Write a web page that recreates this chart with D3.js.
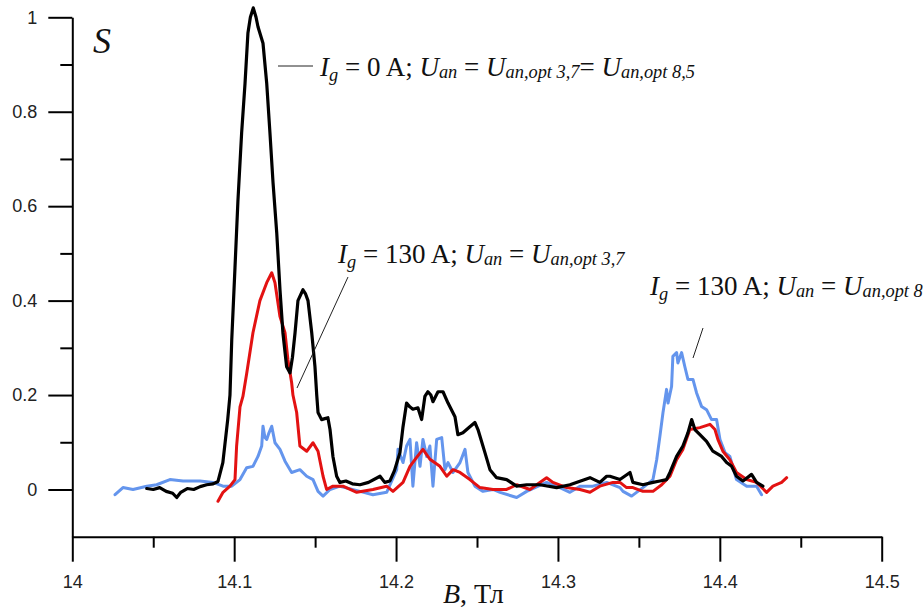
<!DOCTYPE html>
<html><head><meta charset="utf-8">
<script src="https://cdn.jsdelivr.net/npm/d3@7/dist/d3.min.js"></script>
<style>
html,body{margin:0;padding:0;background:#fff;}
svg{display:block;}
.tick text{font-family:"Liberation Sans",Arial,sans-serif;font-size:18px;fill:#222;}
</style></head>
<body>
<svg id="chart" width="923" height="611"></svg>
<script>
// ---------------- data ----------------
const blackB = [14.046,14.050,14.054,14.058,14.062,14.0645,14.067,14.071,14.075,14.079,14.083,14.087,14.090,14.093,14.096,14.0974,14.0985,14.1005,14.1023,14.1046,14.1067,14.1085,14.1100,14.1118,14.1135,14.1147,14.1178,14.1201,14.1221,14.1240,14.1263,14.1283,14.1301,14.1324,14.1345,14.1360,14.1376,14.1394,14.1425,14.1440,14.1456,14.1479,14.1499,14.1510,14.1518,14.1540,14.1560,14.1579,14.1592,14.1610,14.1633,14.1653,14.1690,14.1730,14.1777,14.1830,14.1901,14.1930,14.1962,14.1990,14.2024,14.2043,14.2065,14.2085,14.2104,14.2135,14.2158,14.2178,14.2197,14.2215,14.2228,14.2259,14.2290,14.2321,14.2364,14.2382,14.2413,14.2456,14.2487,14.2506,14.2549,14.2580,14.2621,14.2683,14.2745,14.2807,14.2889,14.2992,14.3074,14.3198,14.3259,14.3301,14.3321,14.3383,14.3445,14.3463,14.3525,14.3587,14.3630,14.3671,14.3692,14.3733,14.3772,14.3803,14.3826,14.3846,14.3877,14.3918,14.3957,14.4011,14.4042,14.4073,14.4103,14.4143,14.4196,14.4227,14.4266];
const blackS = [0.002,0.000,0.004,-0.004,-0.008,-0.017,-0.006,0.002,0.000,0.006,0.010,0.012,0.017,0.057,0.148,0.200,0.317,0.470,0.610,0.755,0.860,0.967,1.000,1.020,1.000,0.980,0.945,0.860,0.755,0.650,0.543,0.423,0.332,0.260,0.247,0.280,0.332,0.400,0.423,0.415,0.400,0.332,0.260,0.200,0.163,0.148,0.150,0.152,0.127,0.070,0.028,0.015,0.018,0.012,0.010,0.015,0.028,0.015,0.018,0.040,0.078,0.133,0.183,0.175,0.170,0.173,0.148,0.197,0.207,0.200,0.186,0.207,0.207,0.183,0.154,0.116,0.120,0.133,0.142,0.127,0.078,0.042,0.025,0.021,0.007,0.010,0.010,0.004,0.010,0.025,0.015,0.028,0.028,0.021,0.036,0.015,0.010,0.015,0.018,0.021,0.036,0.070,0.092,0.120,0.148,0.127,0.116,0.102,0.081,0.070,0.057,0.049,0.028,0.018,0.032,0.015,0.007];

const redB = [14.0900,14.0931,14.0974,14.1005,14.1015,14.1036,14.1054,14.1077,14.1116,14.1159,14.1201,14.1232,14.1252,14.1283,14.1314,14.1332,14.1355,14.1363,14.1386,14.1406,14.1448,14.1487,14.1518,14.1549,14.1571,14.1610,14.1672,14.1757,14.1857,14.1942,14.1981,14.2043,14.2086,14.2127,14.2166,14.2209,14.2271,14.2313,14.2352,14.2395,14.2456,14.2518,14.2599,14.2683,14.2745,14.2827,14.2930,14.2969,14.3054,14.3136,14.3198,14.3259,14.3340,14.3383,14.3424,14.3463,14.3525,14.3587,14.3641,14.3692,14.3733,14.3772,14.3815,14.3877,14.3939,14.3970,14.3988,14.4019,14.4062,14.4103,14.4166,14.4227,14.4289,14.4328,14.4382,14.4413];
const redS = [-0.025,-0.006,0.007,0.021,0.092,0.175,0.197,0.245,0.332,0.400,0.438,0.459,0.438,0.366,0.332,0.275,0.226,0.200,0.163,0.092,0.081,0.099,0.081,0.028,0.000,0.007,0.007,-0.006,0.000,0.007,-0.004,0.015,0.049,0.068,0.085,0.064,0.049,0.028,0.042,0.036,0.021,0.004,0.000,0.000,0.010,0.000,0.025,0.015,0.004,0.000,-0.006,0.007,0.015,0.015,0.004,0.004,-0.004,-0.004,0.010,0.028,0.063,0.085,0.127,0.131,0.138,0.127,0.106,0.081,0.063,0.036,0.021,0.015,-0.006,0.007,0.015,0.025];

const blueB = [14.0264,14.0313,14.0375,14.0460,14.0521,14.0603,14.0684,14.0789,14.0869,14.0931,14.0985,14.1036,14.1077,14.1116,14.1147,14.1170,14.1178,14.1190,14.1201,14.1215,14.1232,14.1252,14.1283,14.1314,14.1355,14.1406,14.1448,14.1487,14.1518,14.1549,14.1592,14.1653,14.1777,14.1857,14.1942,14.2004,14.2012,14.2043,14.2065,14.2086,14.2104,14.2127,14.2148,14.2166,14.2189,14.2209,14.2228,14.2251,14.2282,14.2302,14.2321,14.2352,14.2395,14.2426,14.2444,14.2487,14.2537,14.2599,14.2642,14.2745,14.2807,14.2930,14.3012,14.3074,14.3136,14.3216,14.3301,14.3383,14.3402,14.3455,14.3525,14.3587,14.3610,14.3630,14.3649,14.3671,14.3680,14.3702,14.3710,14.3733,14.3741,14.3764,14.3784,14.3803,14.3834,14.3856,14.3887,14.3918,14.3949,14.3980,14.4001,14.4032,14.4062,14.4103,14.4166,14.4227,14.4258];
const blueS = [-0.011,0.004,0.000,0.007,0.010,0.021,0.018,0.018,0.015,0.007,0.007,0.021,0.046,0.049,0.070,0.092,0.134,0.110,0.106,0.120,0.134,0.099,0.085,0.060,0.036,0.042,0.028,0.021,-0.004,-0.014,0.000,0.007,-0.004,-0.011,-0.006,0.042,0.085,0.057,0.092,0.106,0.007,0.099,0.049,0.106,0.070,0.092,0.007,0.106,0.110,0.042,0.057,0.036,0.057,0.085,0.036,0.007,-0.004,0.000,-0.006,-0.017,-0.004,0.015,0.004,-0.006,0.007,0.007,0.015,0.004,-0.004,-0.014,0.004,0.021,0.063,0.113,0.163,0.212,0.183,0.218,0.282,0.290,0.268,0.290,0.260,0.233,0.233,0.205,0.176,0.169,0.148,0.148,0.106,0.078,0.070,0.021,0.007,0.007,-0.011];

const xMajorTicks = [14, 14.1, 14.2, 14.3, 14.4, 14.5];
const xMinorTicks = [14.05, 14.15, 14.25, 14.35, 14.45];
const yMajorTicks = [0, 0.2, 0.4, 0.6, 0.8, 1];
const yMinorTicks = [0.1, 0.3, 0.5, 0.7, 0.9];

// ---------------- chart ----------------
const svg = d3.select("#chart");
const x = d3.scaleLinear().domain([14, 14.5]).range([72.3, 881.7]);
const y = d3.scaleLinear().domain([-0.1, 1]).range([536.7, 17.3]);

const fmtY = d => d === 0 ? "0" : (d === 1 ? "1" : d3.format(".1f")(d));

// axes
const gx = svg.append("g").attr("transform", `translate(0,${y(-0.1)})`)
  .call(d3.axisBottom(x).tickValues(xMajorTicks).tickSize(25).tickSizeOuter(0).tickPadding(14).tickFormat(d => d === 14 ? "14" : d3.format(".1f")(d)));
const gxm = svg.append("g").attr("transform", `translate(0,${y(-0.1)})`)
  .call(d3.axisBottom(x).tickValues(xMinorTicks).tickSize(11).tickSizeOuter(0).tickFormat(""));
gxm.select(".domain").remove();

const gy = svg.append("g").attr("transform", `translate(${x(14)},0)`)
  .call(d3.axisLeft(y).tickValues(yMajorTicks).tickSize(24).tickSizeOuter(0).tickPadding(11).tickFormat(fmtY));
const gym = svg.append("g").attr("transform", `translate(${x(14)},0)`)
  .call(d3.axisLeft(y).tickValues(yMinorTicks).tickSize(12).tickSizeOuter(0).tickFormat(""));
gym.select(".domain").remove();

svg.selectAll(".domain").attr("stroke", "#000").attr("stroke-width", 2);
svg.selectAll(".tick line").attr("stroke", "#000").attr("stroke-width", 2);

// lines
const line = d3.line().x(d => x(d[0])).y(d => y(d[1])).curve(d3.curveLinear);
const series = [
  {B: blueB, S: blueS, color: "#6495ed", w: 3},
  {B: redB, S: redS, color: "#e31212", w: 3},
  {B: blackB, S: blackS, color: "#000000", w: 3.2}
];
series.forEach(s => {
  const pts = s.B.map((b, i) => [b, s.S[i]]);
  svg.append("path").datum(pts).attr("d", line)
    .attr("fill", "none").attr("stroke", s.color).attr("stroke-width", s.w)
    .attr("stroke-linejoin", "round").attr("stroke-linecap", "round");
});

// annotations
const serif = '"Liberation Serif","Times New Roman",serif';
function richText(x0, y0, segs, size) {
  const t = svg.append("text").attr("x", x0).attr("y", y0)
    .attr("font-family", serif).attr("font-size", size).attr("fill", "#111");
  let cur = 0;
  segs.forEach(([txt, st]) => {
    let shift = 0, fs = size, it = "normal";
    if (st === "i") it = "italic";
    if (st === "sub") { it = "italic"; fs = size * 0.68; shift = size * 0.2; }
    if (st === "sm") { it = "italic"; fs = size * 0.68; shift = size * 0.08; }
    t.append("tspan").attr("dy", shift - cur).attr("font-size", fs)
      .attr("font-style", it).style("white-space", "pre").text(txt);
    cur = shift;
  });
  return t;
}
svg.attr("xml:space", "preserve");

richText(320, 76, [["I","i"],["g","sub"],[" = 0 A; ","r"],["U","i"],["an","sm"],[" = ","r"],["U","i"],["an,opt 3,7","sm"],["= ","r"],["U","i"],["an,opt 8,5","sm"]], 27);
richText(338, 263, [["I","i"],["g","sub"],[" = 130 A; ","r"],["U","i"],["an","sm"],[" = ","r"],["U","i"],["an,opt 3,7","sm"]], 27);
richText(650, 295, [["I","i"],["g","sub"],[" = 130 A; ","r"],["U","i"],["an","sm"],[" = ","r"],["U","i"],["an,opt 8,5","sm"]], 27);

const leaders = [[278, 66, 313, 66], [348, 277, 297, 388], [703, 328, 693, 358]];
leaders.forEach(l => svg.append("line").attr("x1", l[0]).attr("y1", l[1]).attr("x2", l[2]).attr("y2", l[3])
  .attr("stroke", "#222").attr("stroke-width", 1));

// axis titles
svg.append("text").attr("x", 93).attr("y", 53).attr("font-family", serif)
  .attr("font-style", "italic").attr("font-size", 36).attr("fill", "#111").text("S");
const bt = svg.append("text").attr("x", 443).attr("y", 603).attr("font-family", serif)
  .attr("font-size", 28).attr("fill", "#111");
bt.append("tspan").attr("font-style", "italic").text("B");
bt.append("tspan").text(", Тл");
</script>
</body></html>
